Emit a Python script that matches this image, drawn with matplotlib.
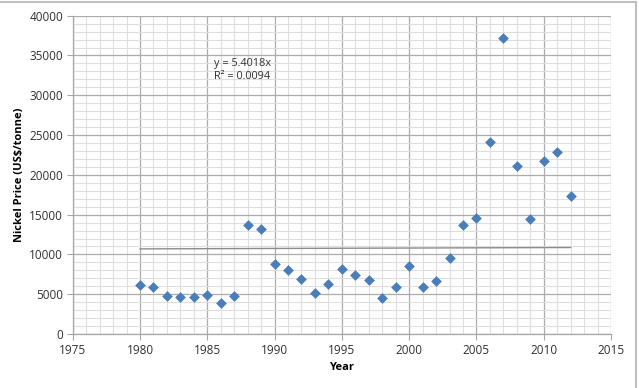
import matplotlib
matplotlib.use("Agg")
import matplotlib.pyplot as plt
from matplotlib.ticker import MultipleLocator
from matplotlib.lines import Line2D

years = list(range(1980, 2013))
prices = [6125, 5875, 4750, 4625, 4667, 4875, 3833, 4750, 13667, 13167,
          8750, 8083, 6958, 5208, 6292, 8167, 7458, 6833, 4583, 5958,
          8542, 5875, 6708, 9542, 13667, 14625, 24076, 37143, 21050, 14458,
          21681, 22815, 17400]
trend_slope = 5.4018
trend_label = "y = 5.4018x\nR\u00b2 = 0.0094"
x_label = "Year"
y_label = "Nickel Price (US$/tonne)"

plt.rcParams['font.family'] = ['Open Sans', 'DejaVu Sans']

fig = plt.figure(figsize=(6.39, 3.88), dpi=100)
ax = fig.add_axes([72.7/639, 1-334/388, (611-72.7)/639, (334-15.7)/388])

ax.set_xlim(1975, 2015)
ax.set_ylim(0, 40000)
ax.xaxis.set_major_locator(MultipleLocator(5))
ax.xaxis.set_minor_locator(MultipleLocator(1))
ax.yaxis.set_major_locator(MultipleLocator(5000))
ax.yaxis.set_minor_locator(MultipleLocator(1000))
ax.grid(which='minor', color='#dedede', linewidth=0.8)
ax.grid(which='major', color='#ababab', linewidth=0.9)
ax.set_axisbelow(True)

for s in ['top', 'right']:
    ax.spines[s].set_visible(False)
for s in ['left', 'bottom']:
    ax.spines[s].set_color('#a6a6a6')
    ax.spines[s].set_linewidth(0.9)
ax.tick_params(which='major', length=4, color='#a6a6a6', labelsize=8.5, labelcolor='#303030', pad=3)
ax.tick_params(which='minor', length=0)

tx = [years[0], years[-1]]
ax.plot(tx, [trend_slope * t for t in tx], color='#8c8c8c', linewidth=1.0, zorder=2)
ax.scatter(years, prices, marker='D', s=30, color='#4a7ebb', zorder=3, linewidths=0)

ax.text(1985.5, 33200, trend_label, fontsize=7.8, color='#303030', va='center', ha='left', linespacing=1.3)

ax.set_xlabel(x_label, fontsize=8, fontweight='bold', labelpad=4)
ax.set_ylabel(y_label, fontsize=8, fontweight='bold', labelpad=3)

fig.add_artist(Line2D([0, 636/639], [1-2/388, 1-2/388], color='#c0c0c0', linewidth=1.5, transform=fig.transFigure))
fig.add_artist(Line2D([636/639, 636/639], [0, 1-2/388], color='#c0c0c0', linewidth=1.5, transform=fig.transFigure))

fig.savefig('out.png', dpi=100)
